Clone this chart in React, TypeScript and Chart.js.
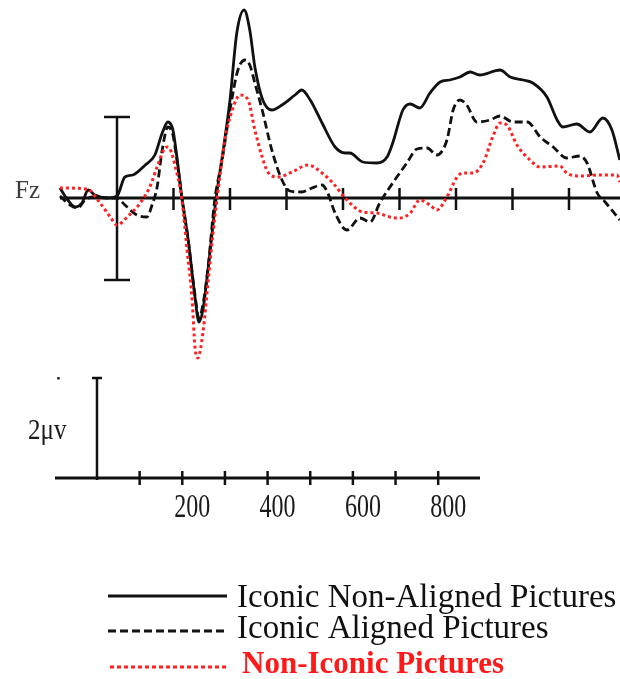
import React, { useEffect, useRef } from "react";
import { Chart, registerables } from "chart.js";

Chart.register(...registerables);

// Iconic Non-Aligned Pictures (solid)
const nonAlignedTimes = [-101, -87, -74, -62, -51, -39, -16, 0, 14, 28, 50, 67, 80, 90, 99, 106, 115, 126, 138, 145, 152, 161, 175, 188, 200, 212, 225, 235, 244, 258, 274, 292, 315, 327, 342, 363, 386, 404, 412, 435, 460, 478, 488, 506, 519, 536, 554, 572, 589, 607, 625, 642, 678, 696, 719, 736, 761, 779, 789, 814, 837, 860, 876, 890];
const nonAlignedValues = [0.2, -0.04, -0.18, -0.1, 0.16, 0.06, 0.0, 0.04, 0.42, 0.46, 0.66, 0.86, 1.3, 1.52, 1.36, 0.82, 0.0, -0.84, -1.98, -2.48, -2.24, -1.44, -0.04, 0.96, 1.96, 3.3, 3.76, 3.36, 2.62, 1.96, 1.76, 1.86, 2.06, 2.16, 1.96, 1.5, 1.02, 0.9, 0.9, 0.72, 0.7, 0.82, 1.1, 1.76, 1.88, 1.8, 2.1, 2.32, 2.36, 2.42, 2.52, 2.46, 2.56, 2.42, 2.36, 2.3, 2.02, 1.56, 1.42, 1.48, 1.32, 1.6, 1.36, 0.76];

// Iconic Aligned Pictures (dashed)
const alignedTimes = [-101, -83, -69, -57, -39, -16, 0, 14, 35, 53, 62, 71, 80, 90, 99, 106, 115, 126, 138, 145, 152, 161, 173, 186, 200, 214, 227, 235, 244, 257, 274, 292, 306, 327, 345, 363, 373, 386, 407, 430, 448, 465, 488, 513, 531, 549, 566, 584, 595, 607, 619, 637, 660, 678, 701, 726, 749, 772, 796, 819, 832, 850, 864, 890];
const alignedValues = [0.04, -0.14, -0.2, -0.04, 0.02, 0.0, 0.0, -0.14, -0.34, -0.38, -0.14, 0.22, 0.96, 1.42, 1.26, 0.76, 0.0, -0.84, -1.94, -2.4, -2.14, -1.4, -0.04, 0.76, 1.76, 2.56, 2.76, 2.66, 2.3, 1.76, 0.96, 0.36, 0.14, 0.12, 0.2, 0.26, 0.1, -0.3, -0.64, -0.4, -0.48, -0.1, 0.3, 0.7, 0.98, 1.0, 0.86, 1.16, 1.76, 1.96, 1.86, 1.52, 1.56, 1.64, 1.52, 1.52, 1.22, 1.02, 0.8, 0.84, 0.7, 0.1, -0.08, -0.44];

// Non-Iconic Pictures (red dotted)
const nonIconicTimes = [-101, -53, -30, -12, 0, 18, 41, 58, 71, 85, 90, 106, 115, 124, 133, 138, 143, 152, 161, 170, 179, 191, 204, 218, 232, 244, 257, 267, 285, 310, 338, 363, 382, 407, 435, 460, 483, 501, 519, 536, 554, 566, 584, 602, 612, 630, 648, 665, 678, 690, 708, 731, 749, 784, 796, 819, 855, 885, 890];
const nonIconicValues = [0.2, 0.18, -0.1, -0.38, -0.54, -0.38, -0.1, 0.22, 0.62, 1.0, 1.02, 0.5, -0.04, -1.04, -2.04, -2.98, -3.2, -2.7, -1.7, -0.7, 0.16, 1.16, 1.76, 2.06, 1.96, 1.36, 0.82, 0.52, 0.42, 0.52, 0.66, 0.5, 0.3, -0.04, -0.28, -0.3, -0.38, -0.4, -0.3, -0.04, -0.14, -0.24, 0.02, 0.42, 0.5, 0.5, 0.7, 1.22, 1.5, 1.46, 1.06, 0.76, 0.62, 0.64, 0.5, 0.44, 0.46, 0.46, 0.32];

const upperTicks = [100, 200, 300, 400, 500, 600, 700, 800];
const lowerTicks = [100, 200, 300, 400, 500, 600, 700, 800];
const lowerTickLabels = [200, 400, 600, 800];
const seriesNames = ["Iconic Non-Aligned Pictures", "Iconic Aligned Pictures", "Non-Iconic Pictures"];
const channelLabel = "Fz";
const scaleLabel = "2\u03bcv";

const SERIF = '"Liberation Serif", "Times New Roman", serif';

function toPoints(t: number[], v: number[]) {
  return t.map((x, i) => ({ x, y: v[i] }));
}

const overlayPlugin = {
  id: "erpOverlay",
  beforeDatasetsDraw(chart: any) {
    const { ctx, scales } = chart;
    const x = scales.x, x2 = scales.x2, y = scales.y;
    const seg = (a: number, b: number, c: number, d: number) => {
      ctx.beginPath();
      ctx.moveTo(a, b);
      ctx.lineTo(c, d);
      ctx.stroke();
    };
    ctx.save();
    ctx.strokeStyle = "#111";
    ctx.lineCap = "butt";

    // upper zero line
    const y0 = y.getPixelForValue(0);
    ctx.lineWidth = 3;
    seg(x.getPixelForValue(-101), y0, x.getPixelForValue(895), y0);
    ctx.lineWidth = 2.5;
    upperTicks.forEach((t) => {
      const px = x.getPixelForValue(t);
      seg(px, y0 - 10, px, y0 + 12);
    });
    // upper scale bar
    const bx = x.getPixelForValue(0);
    const bt = y.getPixelForValue(1.62);
    const bb = y.getPixelForValue(-1.64);
    seg(bx, bt, bx, bb);
    seg(bx - 13, bt, bx + 13, bt);
    seg(bx - 13, bb, bx + 13, bb);

    // lower axis
    const yl = y.getPixelForValue(-5.6);
    ctx.lineWidth = 3;
    seg(x2.getPixelForValue(-98.5), yl, x2.getPixelForValue(898), yl);
    ctx.lineWidth = 2.5;
    lowerTicks.forEach((t) => {
      const px = x2.getPixelForValue(t);
      seg(px, yl - 7, px, yl + 7);
    });
    const lx = x2.getPixelForValue(0);
    const lt = y.getPixelForValue(-3.6);
    seg(lx, yl + 2, lx, lt);
    seg(lx - 5, lt, lx + 5, lt);
    ctx.fillStyle = "#222";
    ctx.fillRect(x2.getPixelForValue(-91) - 1, lt - 1, 2.5, 2.5);

    // tick labels (vertically stretched like the scan)
    ctx.fillStyle = "#1a1a1a";
    ctx.font = `24px ${SERIF}`;
    ctx.textAlign = "center";
    ctx.textBaseline = "alphabetic";
    lowerTickLabels.forEach((v) => {
      ctx.save();
      ctx.translate(x2.getPixelForValue(v) + 10, yl + 39);
      ctx.scale(1, 1.4);
      ctx.fillText(String(v), 0, 0);
      ctx.restore();
    });

    // 2µv label
    ctx.textAlign = "left";
    ctx.font = `25px ${SERIF}`;
    ctx.save();
    ctx.translate(28, yl - 39);
    ctx.scale(1, 1.15);
    ctx.fillText(scaleLabel, 0, 0);
    ctx.restore();

    // Fz label
    ctx.fillStyle = "#3d3d3d";
    ctx.font = `25px ${SERIF}`;
    ctx.fillText(channelLabel, 15, y0);
    ctx.restore();
  },
  afterDraw(chart: any) {
    const { ctx } = chart;
    ctx.save();
    ctx.lineCap = "butt";
    // legend samples
    ctx.strokeStyle = "#111";
    ctx.lineWidth = 3;
    ctx.setLineDash([]);
    ctx.beginPath(); ctx.moveTo(108, 596); ctx.lineTo(227, 596); ctx.stroke();
    ctx.setLineDash([8, 4]);
    ctx.beginPath(); ctx.moveTo(108, 631); ctx.lineTo(227, 631); ctx.stroke();
    ctx.strokeStyle = "#ff2020";
    ctx.setLineDash([4, 3]);
    ctx.beginPath(); ctx.moveTo(110, 667); ctx.lineTo(226, 667); ctx.stroke();
    ctx.setLineDash([]);

    ctx.textAlign = "left";
    ctx.textBaseline = "alphabetic";
    ctx.fillStyle = "#111";
    ctx.font = `33px ${SERIF}`;
    ctx.fillText(seriesNames[0], 237, 607);
    ctx.fillText(seriesNames[1], 237, 638);
    ctx.fillStyle = "#ff1a1a";
    ctx.font = `bold 31px ${SERIF}`;
    ctx.fillText(seriesNames[2], 242, 673);
    ctx.restore();
  },
};

export default function App() {
  const ref = useRef<HTMLCanvasElement | null>(null);
  useEffect(() => {
    document.body.style.margin = "0";
    if (!ref.current) return;
    const chart = new Chart(ref.current, {
      type: "line",
      data: {
        datasets: [
          {
            label: seriesNames[0],
            data: toPoints(nonAlignedTimes, nonAlignedValues),
            borderColor: "#111",
            borderWidth: 2.8,
            pointRadius: 0,
            cubicInterpolationMode: "monotone",
            fill: false,
            order: 1,
          },
          {
            label: seriesNames[1],
            data: toPoints(alignedTimes, alignedValues),
            borderColor: "#111",
            borderWidth: 2.8,
            borderDash: [8, 4],
            pointRadius: 0,
            cubicInterpolationMode: "monotone",
            fill: false,
            order: 2,
          },
          {
            label: seriesNames[2],
            data: toPoints(nonIconicTimes, nonIconicValues),
            borderColor: "#ff2020",
            borderWidth: 3,
            borderDash: [3, 3],
            pointRadius: 0,
            cubicInterpolationMode: "monotone",
            fill: false,
            order: 0,
          },
        ],
      },
      options: {
        animation: false,
        responsive: false,
        devicePixelRatio: 1,
        layout: { padding: 0 },
        plugins: { legend: { display: false }, tooltip: { enabled: false } },
        events: [],
        scales: {
          x: { type: "linear", min: -207.1, max: 890.3, display: false },
          x2: { type: "linear", min: -227.4, max: 1226.3, display: false },
          y: { type: "linear", min: -9.62, max: 3.96, display: false },
        },
      },
      plugins: [overlayPlugin],
    } as any);
    return () => chart.destroy();
  }, []);
  return (
    <div style={{ width: 620, height: 679, position: "relative", overflow: "hidden", background: "#fff" }}>
      <canvas ref={ref} width={620} height={679} style={{ display: "block" }} />
    </div>
  );
}
